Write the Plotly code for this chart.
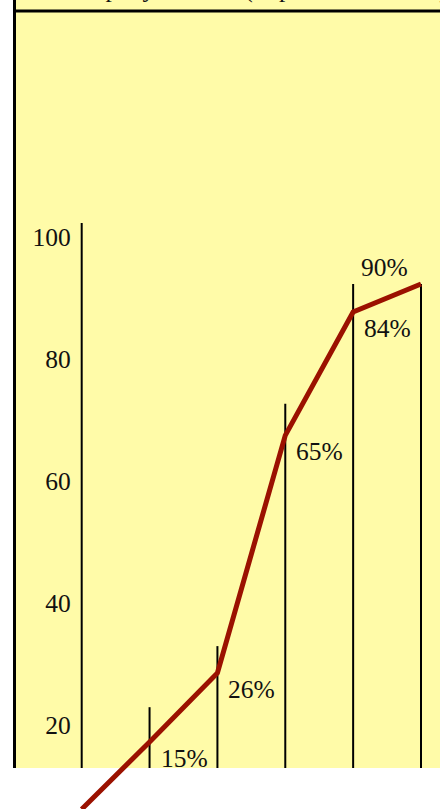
import plotly.graph_objects as go

# ---- data ----
categories = [0, 1, 2, 3, 4, 5]
line_values = [4.0, 15.0, 26.3, 65.2, 85.4, 90.0]
line_labels = ["", "15%", "26%", "65%", "84%", "90%"]
label_below = [True, True, True, True, True, False]
bar_tops = [100, 20.7, 30.7, 70.4, 90.0, 90.0]
y_ticks = [20, 40, 60, 80, 100]
title_text = "Company Income (in percent of GDP)"

W, H = 440, 809
YELLOW = "#FFFBA8"
RED = "#9B1100"
FONT = "Liberation Serif"
FS = 25.5

# vertical lines built from the data
vx, vy = [], []
for c, t in zip(categories, bar_tops):
    vx += [c, c, None]
    vy += [0, t, None]

fig = go.Figure()
fig.add_trace(go.Scatter(
    x=vx, y=vy, mode="lines", line=dict(color="black", width=2),
    xaxis="x", yaxis="y", hoverinfo="skip", showlegend=False))
fig.add_trace(go.Scatter(
    x=categories, y=line_values, mode="lines",
    line=dict(color=RED, width=5),
    xaxis="x", yaxis="y2", showlegend=False))

annotations = []
for c, v, lab, below in zip(categories, line_values, line_labels, label_below):
    if not lab:
        continue
    annotations.append(dict(
        x=c, y=v, xref="x", yref="y2", text=lab, showarrow=False,
        xanchor="left" if below else "right",
        yanchor="top" if below else "bottom",
        xshift=9 if below else -11, yshift=0,
        font=dict(family=FONT, size=FS, color="#111111")))

px_per_cat = 67.86
x0_px = 81.7
xmin = -x0_px / px_per_cat
xmax = (W - x0_px) / px_per_cat

y_zero_px = 833.6
px_per_unit = 6.107
yellow_bottom_px = 768
top_v = y_zero_px / px_per_unit
bot_v_full = (y_zero_px - H) / px_per_unit
bot_v_yel = (y_zero_px - yellow_bottom_px) / px_per_unit

annotations.append(dict(
    text=title_text, xref="paper", yref="paper", x=54 / W, y=1 + 11.5 / H,
    xanchor="left", yanchor="middle", showarrow=False,
    font=dict(family=FONT, size=FS, color="#111111")))

fig.update_layout(
    width=W, height=H,
    margin=dict(l=0, r=0, t=0, b=0, pad=0),
    paper_bgcolor="white",
    plot_bgcolor="rgba(0,0,0,0)",
    showlegend=False,
    xaxis=dict(range=[xmin, xmax], domain=[0, 1], visible=False, fixedrange=True),
    yaxis=dict(range=[bot_v_yel, top_v], domain=[(H - yellow_bottom_px) / H, 1],
               anchor="free", position=x0_px / W, side="left",
               tickvals=y_ticks, ticks="", showgrid=False, zeroline=False,
               showline=False, ticklabelposition="outside bottom",
               ticklabelstandoff=11, ticklabelshift=-4,
               tickfont=dict(family=FONT, size=FS, color="#111111")),
    yaxis2=dict(range=[bot_v_full, top_v], domain=[0, 1], anchor="x",
                visible=False, fixedrange=True),
    shapes=[
        dict(type="rect", xref="paper", yref="paper", x0=14 / W, x1=1.01,
             y0=(H - yellow_bottom_px) / H, y1=1.01, fillcolor=YELLOW,
             line=dict(width=0), layer="below"),
        dict(type="line", xref="paper", yref="paper", x0=14.5 / W, x1=14.5 / W,
             y0=(H - yellow_bottom_px) / H, y1=1.01, line=dict(color="black", width=3),
             layer="above"),
        dict(type="line", xref="paper", yref="paper", x0=14 / W, x1=1.01,
             y0=1 - 11 / H, y1=1 - 11 / H, line=dict(color="black", width=3),
             layer="above"),
    ],
    annotations=annotations,
)

fig.write_html("out.html", config={"displayModeBar": False},
               post_script="document.body.style.margin='0';document.body.style.overflow='hidden';")
